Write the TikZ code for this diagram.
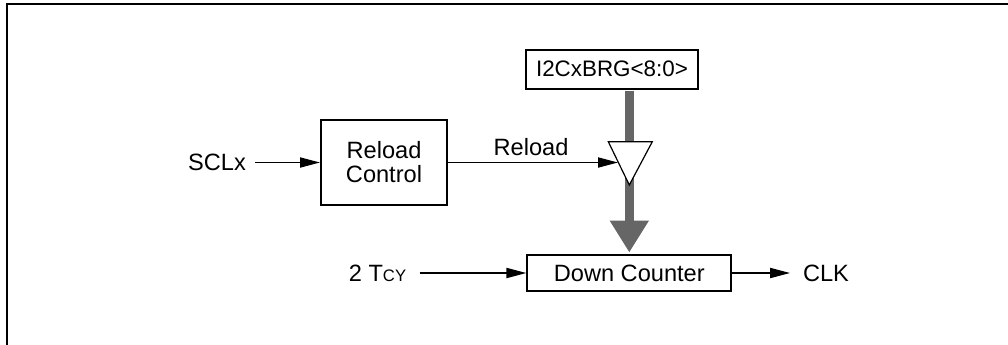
\documentclass[tikz,border=0pt]{standalone}
\usepackage{fontspec}
\setmainfont{Liberation Sans}
\usetikzlibrary{arrows.meta}
\definecolor{busgray}{RGB}{102,102,102}
\begin{document}
\begin{tikzpicture}[x=0.75pt,y=-0.75pt,
  every node/.style={font=\fontsize{17.7}{18}\selectfont},
  blk/.style={draw, line width=1.5pt, inner sep=0pt, align=center},
  lbl/.style={inner sep=0pt, inner xsep=7pt},
  sig/.style={line width=1.35pt, -{Triangle[length=15pt,width=7.5pt]}},
  bus/.style={draw=busgray, line width=6.75pt, -{Triangle[length=24pt,width=27.75pt]}},
  trishape/.style={draw, fill=white, line width=0.9pt}
]
\useasboundingbox (0,0) rectangle (1008,344);
\clip (0,0) rectangle (1008,344);
\draw[line width=1.6pt] (7,4) rectangle (1030,370);

% blocks
\node[blk, minimum width=94.5pt, minimum height=63.75pt] (rc) at (384,162.5) {Reload\\Control};
\node[blk, minimum width=129pt, minimum height=29.25pt, font=\fontsize{16.8}{18}\selectfont] (brg) at (612,69) {I2CxBRG<8:0>};
\node[blk, minimum width=152.8pt, minimum height=26.8pt] (dc) at (629.3,273) {Down Counter};

% labels
\node[lbl] (scl) at (217,162.5) {SCLx};
\node[lbl, inner xsep=10pt] (tcy) at (377.5,273) {2 T{\fontsize{12.5}{14}\selectfont CY}};
\node[lbl, inner xsep=9.5pt] (clk) at (826,273) {CLK};
\node[inner sep=0pt] (rl) at (531,147) {Reload};

% bus through the triangle
\draw[bus, shorten <=0.75pt, shorten >=1.2pt] (brg.south -| dc.north) -- (dc.north);
\draw[trishape] (608.3,141.7) -- (652.3,141.7) -- (629.3,185) -- cycle;
\coordinate (triin) at (618,162.5);

% signals
\draw[sig] (scl.east) -- (rc.west);
\draw[sig] (rc.east) -- (triin);
\draw[sig] (tcy.east) -- (dc.west);
\draw[sig] (dc.east) -- (clk.west);
\end{tikzpicture}
\end{document}
